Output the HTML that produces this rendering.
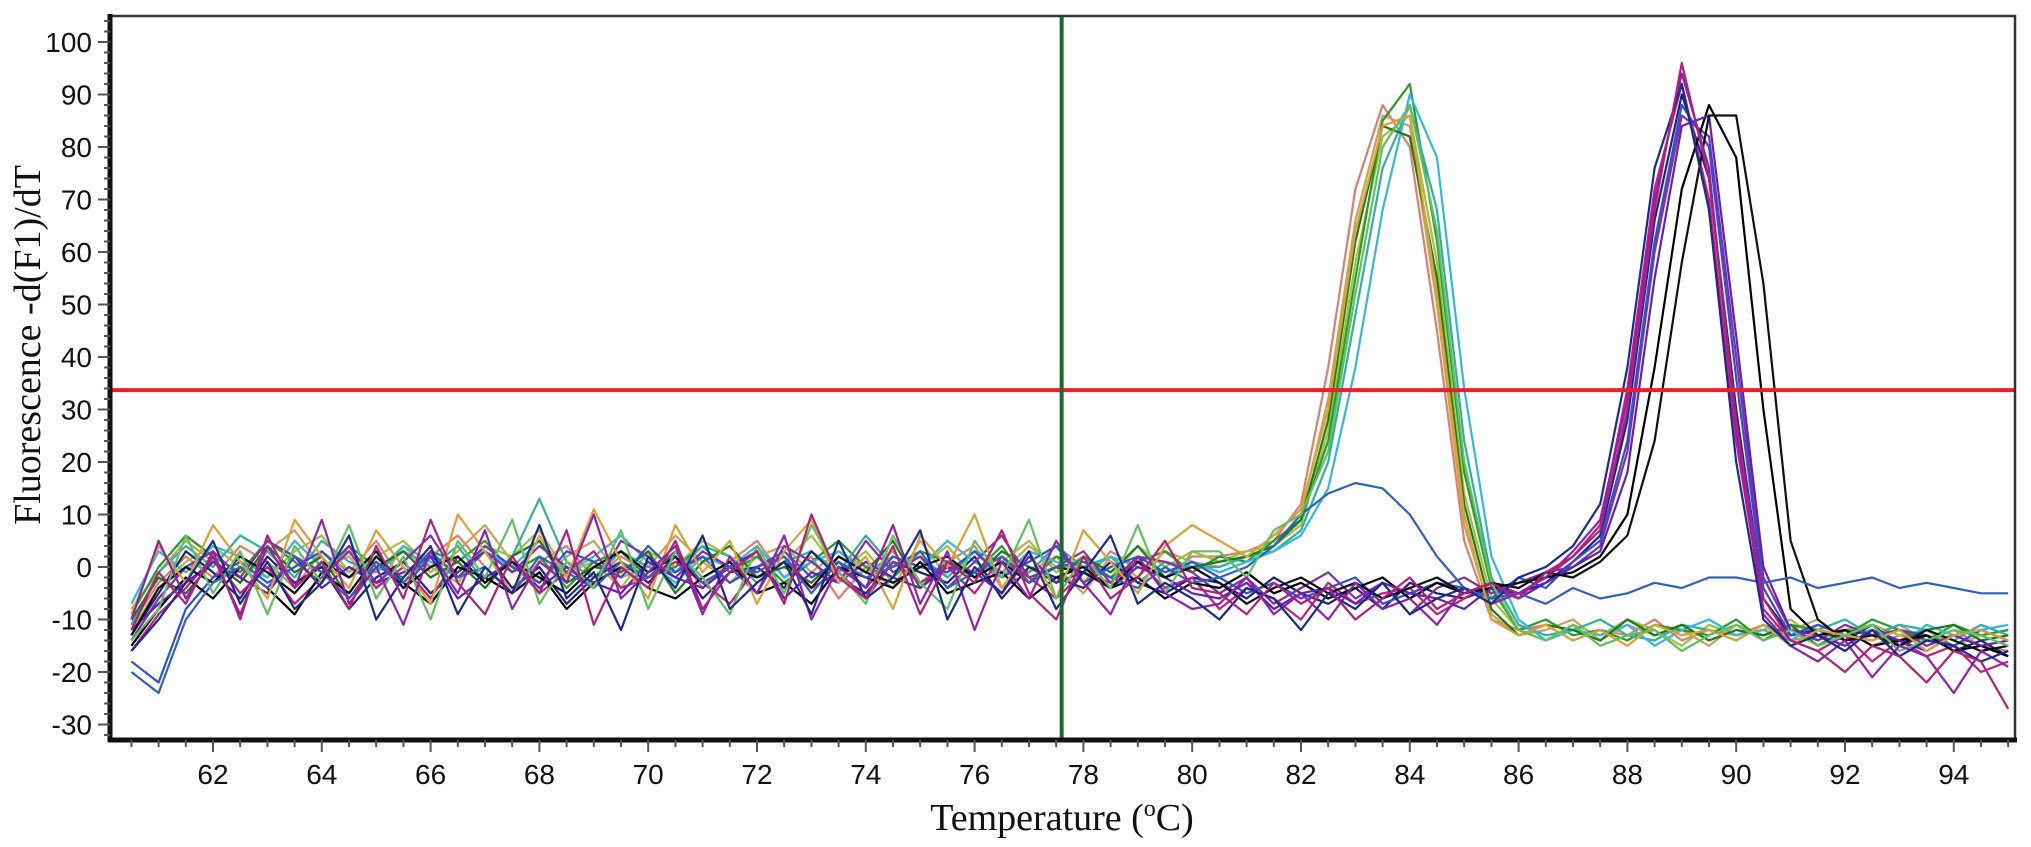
<!DOCTYPE html>
<html><head><meta charset="utf-8"><style>
html,body{margin:0;padding:0;background:#fff;}
svg{display:block;}
</style></head><body>
<svg id="chart" width="2031" height="847" viewBox="0 0 2031 847" xmlns="http://www.w3.org/2000/svg">
<defs><clipPath id="clip"><rect x="110" y="16" width="1905" height="723"/></clipPath></defs>
<rect x="0" y="0" width="2031" height="847" fill="#fff"/>
<g id="series" clip-path="url(#clip)"></g>
<g id="axes"></g>
<text x="0" y="0" transform="translate(40,345) rotate(-90)" text-anchor="middle" font-family="Liberation Serif, serif" font-size="38" fill="#111">Fluorescence -d(F1)/dT</text>
<text x="1062" y="830" text-anchor="middle" font-family="Liberation Serif, serif" font-size="38" fill="#111">Temperature (<tspan font-size="24" dy="-14">o</tspan><tspan dy="14">C)</tspan></text>
</svg>
<script>
const temps = [60.5,61,61.5,62,62.5,63,63.5,64,64.5,65,65.5,66,66.5,67,67.5,68,68.5,69,69.5,70,70.5,71,71.5,72,72.5,73,73.5,74,74.5,75,75.5,76,76.5,77,77.5,78,78.5,79,79.5,80,80.5,81,81.5,82,82.5,83,83.5,84,84.5,85,85.5,86,86.5,87,87.5,88,88.5,89,89.5,90,90.5,91,91.5,92,92.5,93,93.5,94,94.5,95];
const xTicks = [62,64,66,68,70,72,74,76,78,80,82,84,86,88,90,92,94];
const yTicks = [-30,-20,-10,0,10,20,30,40,50,60,70,80,90,100];
const thresholdValue = 33.7;
const markerTemp = 77.6;
const seriesNames = ['p1a','p1b','p1c','p1d','p1e','p1f','p1g','p2a','p2b','p2c','p2d','p2e','p2f','p2g','flat','q1','q2','q3','q4','q5'];
const seriesColors = ['#d98070','#c8a060','#a0c040','#2a9a2a','#30b0a0','#30b8e0','#1a7a1a','#202080','#8030a0','#c02080','#3050d0','#000000','#6020c0','#101010','#3060c0','#e0a030','#60c060','#9020b0','#1a2a90','#b0207a'];
const p1a = [-11,-3,2,-2,4,1,-4,3,-1,5,-3,2,6,0,-5,1,4,-2,2,-1,3,-4,1,5,-2,2,-6,0,3,-3,1,4,-4,-1,2,-3,3,0,-2,2, 2,3,5,12,38,72,88,80,45,5,-10,-12,-11,-14,-12,-13,-10,-14,-12,-13,-11,-14,-13,-12,-15,-13,-14,-12,-15,-16];
const p1b = [-8,-1,5,1,-3,3,7,0,2,-4,4,-1,3,8,1,-3,2,5,-2,0,6,1,-3,2,4,-1,3,0,-4,5,-2,3,-1,4,0,-5,2,-2,3,1, 0,2,4,10,32,66,86,84,50,8,-9,-13,-12,-10,-14,-11,-13,-12,-15,-11,-13,-12,-10,-14,-13,-11,-14,-13,-12,-14];
const p1c = [-12,-4,1,4,0,-2,3,6,-1,2,5,0,-3,4,2,7,-1,1,-4,3,0,5,2,-2,1,6,-1,3,-3,0,4,-2,1,5,-1,2,-2,4,0,3, 1,3,4,8,26,58,82,86,58,14,-6,-12,-14,-11,-13,-10,-12,-15,-11,-13,-12,-10,-14,-12,-11,-13,-12,-15,-13,-12];
const p1d = [-9,0,6,2,-1,5,1,-3,4,0,-2,3,1,5,-1,2,-4,1,3,-2,0,4,-1,2,-3,1,5,0,-2,3,1,-1,4,-3,2,0,-2,1,3,-1, 2,1,5,9,24,55,85,92,62,18,-4,-12,-10,-13,-12,-14,-11,-12,-13,-10,-14,-11,-12,-13,-10,-12,-14,-11,-13,-12];
const p1e = [-11,-1,4,0,6,3,-2,5,1,-1,3,0,4,-3,2,13,1,-2,3,0,-1,4,2,-3,1,3,-1,6,0,2,-2,3,1,-1,4,0,2,-3,1,0, 0,2,3,7,20,48,76,88,68,24,-2,-11,-13,-12,-10,-13,-14,-11,-12,-14,-11,-13,-12,-10,-13,-11,-12,-14,-11,-13];
const p1f = [-7,3,-1,4,2,-2,5,0,3,-1,4,1,-2,3,0,5,-1,2,6,1,-3,2,0,4,-2,1,3,-1,2,0,5,1,-2,3,1,-1,2,0,-2,1, -1,1,3,6,15,38,68,90,78,34,2,-10,-14,-12,-13,-11,-15,-12,-10,-13,-12,-14,-11,-13,-12,-15,-11,-13,-12,-11];
const p1g = [-10,-2,-5,1,-3,4,-1,2,-6,0,3,-2,1,-4,2,5,-3,0,-1,3,-5,1,4,-2,0,-3,2,-1,5,-4,1,-2,3,0,-3,2,-1,4,-2,0, 1,2,4,9,28,62,84,82,55,12,-8,-13,-11,-12,-14,-10,-13,-11,-14,-12,-13,-11,-15,-12,-13,-14,-12,-11,-14,-13];
const p2a = [-13,-5,3,-1,-6,2,-3,0,-8,-2,1,-5,-1,3,-4,0,-7,-2,1,-3,2,-6,-1,0,-4,3,-2,-5,1,-1,-3,2,-6,0,-2,-4,1,-3,-5,-2, -3,-6,-2,-5,-7,-4,-8,-3,-5,-6,-4,-5,-3,1,6,28,66,90,74,30,-6,-13,-12,-14,-11,-15,-13,-16,-14,-17];
const p2b = [-14,-6,0,3,-2,5,2,-1,4,-3,1,6,-2,3,-1,4,0,-4,5,2,-2,3,0,-5,4,1,-3,5,-1,2,-4,1,6,-2,0,3,-3,2,1,-1, -5,-2,-7,-4,-1,-6,-3,-9,-4,-2,-5,-3,-1,0,4,22,60,86,82,40,-2,-12,-14,-11,-13,-12,-15,-13,-12,-14];
const p2c = [-16,-9,-4,2,-5,0,-7,-2,3,-4,0,-6,2,-3,1,-5,-1,3,-4,-2,1,-3,-7,0,2,-4,-1,-6,1,-3,0,-5,2,-2,-6,-1,-3,1,-4,-2, -8,-4,-6,-10,-3,-7,-5,-4,-9,-6,-3,-5,-2,2,8,34,72,92,70,24,-8,-14,-16,-13,-18,-14,-17,-15,-20,-18];
const p2d = [-18,-22,-8,-2,1,-3,0,3,-2,1,-4,2,-1,4,0,-3,3,1,-2,4,-1,2,-3,0,3,-2,1,-4,2,0,-1,3,-2,1,4,-3,0,2,-1,1, -2,-5,-3,-6,-4,-2,-7,-5,-3,-4,-6,-2,-4,1,5,24,62,88,80,36,-4,-13,-11,-13,-14,-12,-13,-15,-12,-14];
const p2e = [-15,-8,-2,-6,0,-4,-9,-1,-5,2,-3,-7,0,-2,-5,-1,-8,-3,0,-4,-6,-2,1,-5,-3,-7,0,-2,-4,1,-5,-3,-1,-6,-2,0,-4,-2,-6,-3, -4,-1,-5,-3,-6,-4,-2,-6,-3,-5,-4,-3,-2,-1,2,10,38,72,88,78,30,-8,-13,-12,-15,-14,-13,-16,-15,-17];
const p2f = [-12,-7,-3,1,-2,-5,2,-4,0,-3,-1,2,-6,-2,1,-4,0,-3,-5,1,-2,-4,0,3,-6,-1,-3,1,-2,-4,0,-1,-5,2,-3,-1,-4,0,-2,-5, -6,-3,-8,-5,-4,-7,-3,-5,-6,-8,-4,-6,-3,0,3,18,55,84,86,44,0,-12,-13,-15,-12,-14,-16,-13,-15,-14];
const p2g = [-13,-4,0,-3,2,-1,-5,1,-2,3,-4,0,2,-3,1,-2,-5,0,3,-1,2,-3,0,-2,1,-4,2,-1,-3,0,2,-2,1,-3,0,-1,-4,1,-2,0, -3,-7,-4,-2,-5,-3,-6,-4,-2,-5,-3,-4,-1,-2,1,6,24,58,86,86,54,5,-10,-14,-13,-15,-12,-14,-16,-15];
const flat = [-20,-24,-10,-3,0,-4,2,-1,-6,1,-3,3,-2,0,-5,2,-1,-4,1,-2,3,-3,0,-1,2,-5,1,-2,0,3,-4,-1,2,-3,0,1,-2,-4,0,-3, -2,0,4,10,14,16,15,10,2,-4,-6,-5,-7,-4,-6,-5,-3,-4,-2,-2,-3,-2,-4,-3,-2,-4,-3,-4,-5,-5];
const q1 = [-9,4,-3,8,1,-6,9,2,-4,7,0,-7,10,3,-5,6,-2,11,1,-6,8,-1,5,-7,3,9,-3,2,-8,6,0,10,-4,3,-6,7,1,-5,4,8, 5,2,6,11,30,64,84,86,52,10,-10,-13,-11,-14,-12,-15,-11,-13,-12,-14,-11,-15,-12,-13,-14,-12,-16,-13,-12,-14];
const q2 = [-14,-8,6,-5,3,-9,4,-3,8,-6,2,-10,5,-2,9,-7,1,-4,7,-8,3,-2,-9,4,-5,8,-1,-7,6,-3,-8,5,-2,9,-6,2,-4,8,-5,3, 3,-2,7,10,22,52,80,88,64,20,-3,-12,-14,-11,-15,-13,-12,-16,-13,-11,-14,-12,-15,-13,-11,-16,-14,-12,-13,-15];
const q3 = [-10,5,-6,2,-9,4,-4,9,-7,0,-11,3,-5,7,-8,1,-3,10,-6,-1,4,-9,2,-5,6,-10,0,-4,8,-7,3,-12,1,-6,5,-3,-9,2,-5,-8, -7,-2,-9,-5,-10,-3,-8,-6,-11,-4,-7,-5,-2,3,9,32,70,94,76,26,-9,-15,-18,-14,-21,-15,-17,-24,-16,-19];
const q4 = [-16,-10,-3,5,-7,1,-8,-3,6,-10,-2,4,-9,0,-5,8,-6,-1,-12,2,-4,6,-8,-3,1,-9,5,-6,-2,7,-10,0,-5,3,-8,-1,6,-7,-3,-6, -10,-4,-6,-12,-5,-8,-3,-9,-6,-4,-7,-2,0,4,12,38,76,92,68,20,-10,-15,-13,-16,-12,-17,-14,-15,-18,-16];
const q5 = [-12,-1,-7,3,-10,6,-4,1,-8,4,-6,9,-3,-9,2,-5,7,-11,0,-4,5,-8,-1,3,-7,10,-2,-6,4,-9,1,-3,7,-5,-10,2,-6,-2,5,-4, -5,-9,-3,-7,-4,-10,-6,-2,-8,-5,-3,-6,-1,2,7,30,68,96,74,28,-6,-14,-16,-20,-15,-17,-22,-16,-18,-27];
const seriesValues = [p1a,p1b,p1c,p1d,p1e,p1f,p1g,p2a,p2b,p2c,p2d,p2e,p2f,p2g,flat,q1,q2,q3,q4,q5];

const NS='http://www.w3.org/2000/svg';
const X0=110,X1=2015,Y0=16,Y1=740;
function xs(t){return 213+(t-62)*54.4;}
function ys(v){return 567-v*5.25;}
function mk(tag,attrs,parent){const e=document.createElementNS(NS,tag);for(const k in attrs)e.setAttribute(k,attrs[k]);parent.appendChild(e);return e;}
const sg=document.getElementById('series');
const ax=document.getElementById('axes');
seriesValues.forEach((vals,si)=>{
  const d=vals.map((v,i)=>(i?'L':'M')+xs(temps[i]).toFixed(1)+' '+ys(v).toFixed(1)).join(' ');
  const p=mk('path',{d:d,fill:'none',stroke:seriesColors[si],'stroke-width':'2.2','stroke-linejoin':'round'},sg);
  
  
});
const th=mk('line',{x1:X0,x2:X1,y1:ys(thresholdValue),y2:ys(thresholdValue),stroke:'#e8202a','stroke-width':'4'},sg);


const mv=mk('line',{x1:xs(markerTemp),x2:xs(markerTemp),y1:Y0,y2:Y1,stroke:'#1a6a2a','stroke-width':'4'},sg);


const fr=mk('rect',{x:X0,y:Y0,width:X1-X0,height:Y1-Y0,fill:'none',stroke:'#333','stroke-width':'2.5'},ax);


const la=mk('line',{x1:X0,x2:X0,y1:Y0-2,y2:Y1+2,stroke:'#111','stroke-width':'5'},ax);


const ba=mk('line',{x1:X0-2,x2:X1+2,y1:Y1,y2:Y1,stroke:'#111','stroke-width':'5'},ax);


for(let v=-32;v<=104;v+=2){
  const major=(v%10===0);
  mk('line',{x1:X0-(major?12:6),x2:X0,y1:ys(v),y2:ys(v),stroke:'#555','stroke-width':'2'},ax);
}
yTicks.forEach(v=>{
  const t=mk('text',{x:92,y:ys(v)+10,'text-anchor':'end','font-family':'Liberation Sans, sans-serif','font-size':'28',fill:'#111'},ax);
  t.textContent=String(v);
  
  
});
for(let t=60.5;t<=95;t+=0.5){
  const major=(Math.abs(t-Math.round(t))<1e-6 && Math.round(t)%2===0);
  mk('line',{x1:xs(t),x2:xs(t),y1:Y1,y2:Y1+(major?12:7),stroke:'#555','stroke-width':'2'},ax);
}
xTicks.forEach(v=>{
  const t=mk('text',{x:xs(v),y:784,'text-anchor':'middle','font-family':'Liberation Sans, sans-serif','font-size':'28',fill:'#111'},ax);
  t.textContent=String(v);
  
  
});
</script>
</body></html>
